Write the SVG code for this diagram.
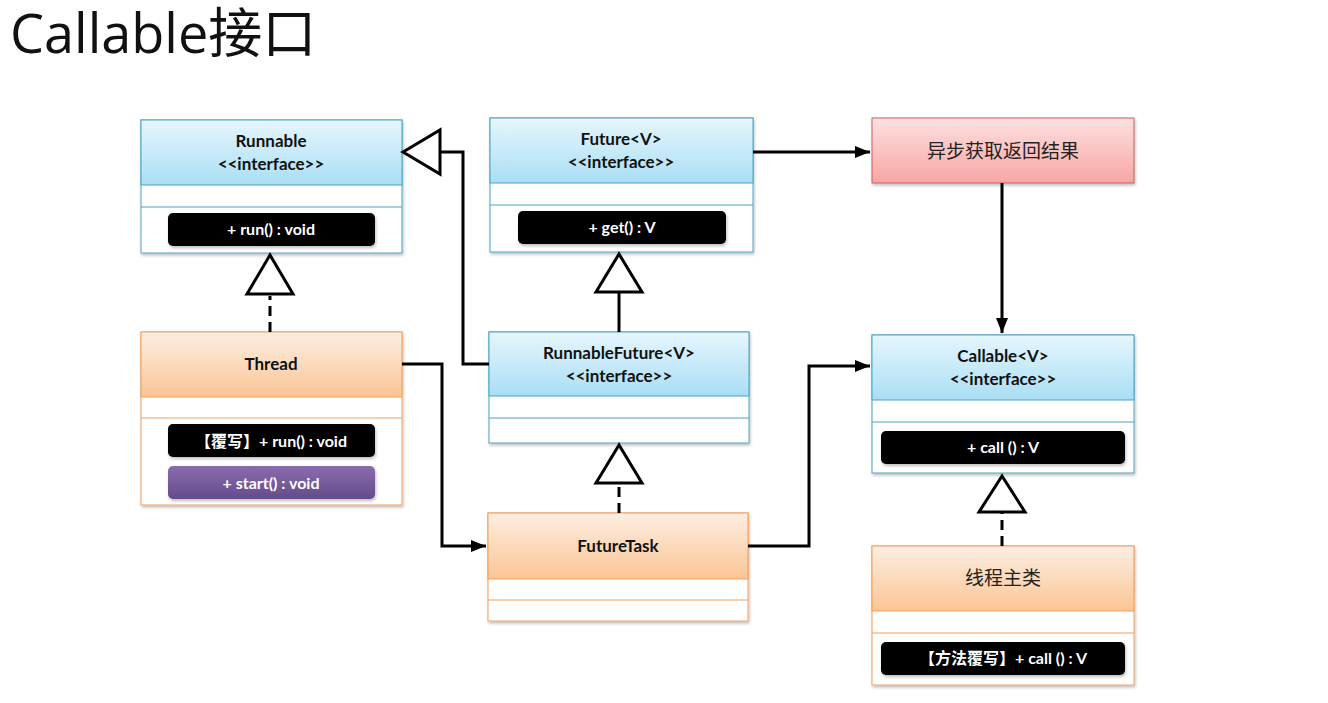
<svg xmlns="http://www.w3.org/2000/svg" width="1328" height="703" viewBox="0 0 1328 703">
<defs>
<linearGradient id="gBlue" x1="0" y1="0" x2="0" y2="1"><stop offset="0" stop-color="#e6f6fd"/><stop offset="1" stop-color="#a9def5"/></linearGradient>
<linearGradient id="gOrange" x1="0" y1="0" x2="0" y2="1"><stop offset="0" stop-color="#fdeee2"/><stop offset="1" stop-color="#fbc594"/></linearGradient>
<linearGradient id="gRed" x1="0" y1="0" x2="0" y2="1"><stop offset="0" stop-color="#fde0e0"/><stop offset="1" stop-color="#f7a6a4"/></linearGradient>
<linearGradient id="gPurple" x1="0" y1="0" x2="0" y2="1"><stop offset="0" stop-color="#8a6cb0"/><stop offset="1" stop-color="#654b8a"/></linearGradient>
<filter id="sh" x="-5%" y="-5%" width="110%" height="115%"><feDropShadow dx="1" dy="2" stdDeviation="1.5" flood-color="#000" flood-opacity="0.25"/></filter>
<marker id="arr" viewBox="0 0 10 10" refX="10" refY="5" markerWidth="5" markerHeight="5" orient="auto" markerUnits="strokeWidth"><path d="M0,1 L10,5 L0,9 Z" fill="#000"/></marker>
</defs>
<style>
.box{fill:#fff;filter:url(#sh)}
.bb{stroke:#4aa3c4;stroke-width:1}
.ob{stroke:#f0a060;stroke-width:1}
.t{font-family:Lato,"Noto Sans","Noto Sans CJK SC",sans-serif;font-weight:bold;font-size:17px;fill:#111;text-anchor:middle}
.pt{font-family:Lato,"Noto Sans","Noto Sans CJK SC",sans-serif;font-weight:bold;font-size:16px;fill:#fff;text-anchor:middle}
.cn{font-family:"Noto Sans CJK SC",sans-serif;font-size:19px;fill:#222;text-anchor:middle}
.pill{fill:#000;filter:url(#sh)}
.ln{fill:none;stroke:#000;stroke-width:3}
.dash{fill:none;stroke:#000;stroke-width:3;stroke-dasharray:10,6}
.tri{fill:#fff;stroke:#000;stroke-width:3;stroke-linejoin:miter}
</style>
<rect width="1328" height="703" fill="#fff"/>
<text x="10" y="53" font-family="'Open Sans','Noto Sans CJK SC',sans-serif" font-size="54" fill="#111">Callable接口</text>

<g id="runnable">
<rect class="box bb" x="141" y="120" width="261" height="133"/>
<rect x="141" y="120" width="261" height="65" fill="url(#gBlue)" class="bb"/>
<line x1="141" y1="207" x2="402" y2="207" class="bb"/>
<text class="t" x="271" y="147">Runnable</text>
<text class="t" x="271" y="170">&lt;&lt;interface&gt;&gt;</text>
<rect class="pill" x="168" y="213" width="207" height="33" rx="5"/>
<text class="pt" x="271" y="235">+ run() : void</text>
</g>

<g id="future">
<rect class="box bb" x="490" y="118" width="263" height="134"/>
<rect x="490" y="118" width="263" height="65" fill="url(#gBlue)" class="bb"/>
<line x1="490" y1="205" x2="753" y2="205" class="bb"/>
<text class="t" x="621" y="145">Future&lt;V&gt;</text>
<text class="t" x="621" y="168">&lt;&lt;interface&gt;&gt;</text>
<rect class="pill" x="518" y="211" width="208" height="33" rx="5"/>
<text class="pt" x="622" y="233">+ get() : V</text>
</g>

<g id="async">
<rect x="872" y="118" width="262" height="65" fill="url(#gRed)" stroke="#c8605a" stroke-width="1" filter="url(#sh)"/>
<text class="cn" x="1003" y="158">异步获取返回结果</text>
</g>

<g id="thread">
<rect class="box ob" x="141" y="332" width="261" height="173"/>
<rect x="141" y="332" width="261" height="65" fill="url(#gOrange)" class="ob"/>
<line x1="141" y1="418" x2="402" y2="418" class="ob"/>
<text class="t" x="271" y="370">Thread</text>
<rect class="pill" x="168" y="424" width="207" height="33" rx="5"/>
<text class="pt" x="271" y="447">【覆写】+ run() : void</text>
<rect x="168" y="466" width="207" height="33" rx="5" fill="url(#gPurple)" filter="url(#sh)"/>
<text class="pt" x="271" y="489">+ start() : void</text>
</g>

<g id="runnablefuture">
<rect class="box bb" x="489" y="332" width="260" height="111"/>
<rect x="489" y="332" width="260" height="64" fill="url(#gBlue)" class="bb"/>
<line x1="489" y1="418" x2="749" y2="418" class="bb"/>
<text class="t" x="619" y="359">RunnableFuture&lt;V&gt;</text>
<text class="t" x="619" y="382">&lt;&lt;interface&gt;&gt;</text>
</g>

<g id="futuretask">
<rect class="box ob" x="488" y="513" width="260" height="108"/>
<rect x="488" y="513" width="260" height="66" fill="url(#gOrange)" class="ob"/>
<line x1="488" y1="600" x2="748" y2="600" class="ob"/>
<text class="t" x="618" y="552">FutureTask</text>
</g>

<g id="callable">
<rect class="box bb" x="872" y="335" width="262" height="138"/>
<rect x="872" y="335" width="262" height="65" fill="url(#gBlue)" class="bb"/>
<line x1="872" y1="422" x2="1134" y2="422" class="bb"/>
<text class="t" x="1003" y="362">Callable&lt;V&gt;</text>
<text class="t" x="1003" y="385">&lt;&lt;interface&gt;&gt;</text>
<rect class="pill" x="881" y="431" width="244" height="33" rx="5"/>
<text class="pt" x="1003" y="453">+ call () : V</text>
</g>

<g id="mainclass">
<rect class="box ob" x="872" y="546" width="262" height="139"/>
<rect x="872" y="546" width="262" height="65" fill="url(#gOrange)" class="ob"/>
<line x1="872" y1="633" x2="1134" y2="633" class="ob"/>
<text class="cn" x="1003" y="585">线程主类</text>
<rect class="pill" x="881" y="642" width="244" height="33" rx="5"/>
<text class="pt" x="1003" y="664">【方法覆写】+ call () : V</text>
</g>

<g id="connectors">
<path class="dash" d="M270,332 V296"/>
<path class="tri" d="M270,255 L247,294 L293,294 Z"/>
<path class="ln" d="M619,332 V293"/>
<path class="tri" d="M619,254 L596,292 L642,292 Z"/>
<path class="ln" d="M489,364 H463 V152 H441"/>
<path class="tri" d="M403,152 L440,130 L440,174 Z"/>
<path class="dash" d="M619,513 V484"/>
<path class="tri" d="M619,445 L596,483 L642,483 Z"/>
<path class="dash" d="M1002,546 V513"/>
<path class="tri" d="M1002,476 L979,512 L1025,512 Z"/>
<path class="ln" d="M753,152 H870" marker-end="url(#arr)"/>
<path class="ln" d="M1002,183 V333" marker-end="url(#arr)"/>
<path class="ln" d="M402,364 H442 V546 H486" marker-end="url(#arr)"/>
<path class="ln" d="M748,546 H809 V366 H870" marker-end="url(#arr)"/>
</g>
</svg>
